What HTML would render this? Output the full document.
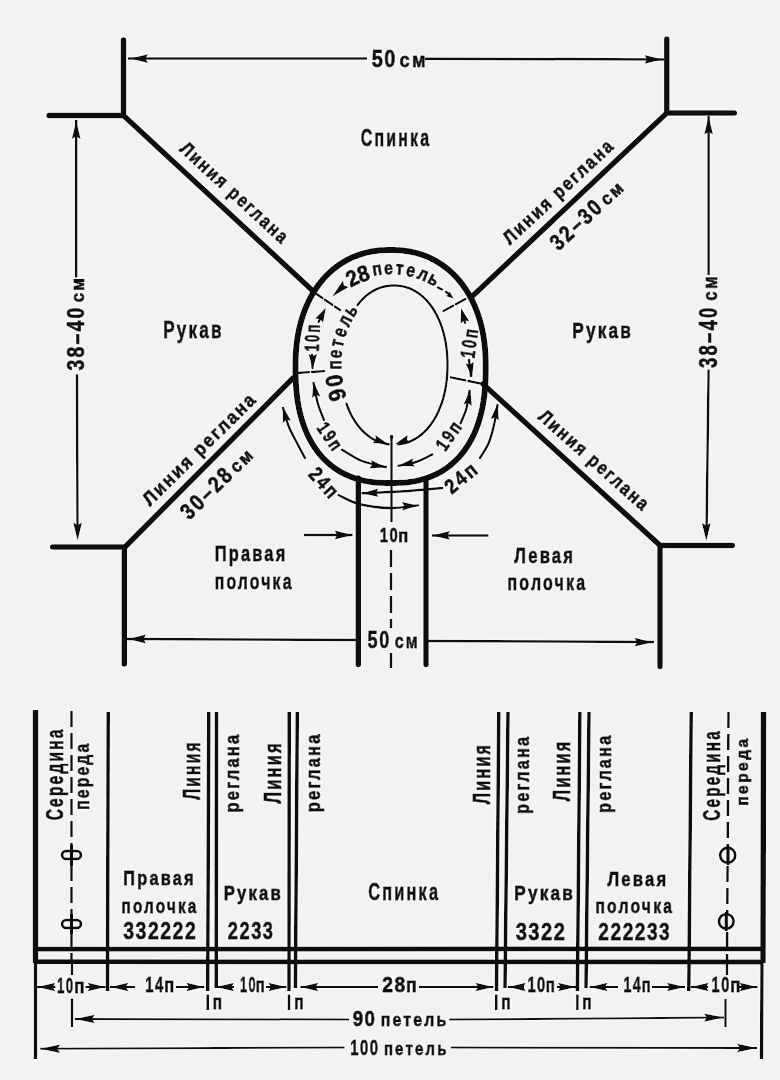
<!DOCTYPE html>
<html><head><meta charset="utf-8"><style>
html,body{margin:0;padding:0;background:#f2f2f2;}
svg{display:block;filter:grayscale(1);}
</style></head><body>
<svg width="780" height="1080" viewBox="0 0 780 1080">
<defs><filter id="h" filterUnits="userSpaceOnUse" x="0" y="0" width="780" height="1080">
<feMorphology in="SourceAlpha" operator="dilate" radius="1.2" result="d"/>
<feGaussianBlur in="d" stdDeviation="1" result="b"/>
<feFlood flood-color="#ffffff" flood-opacity="0.5"/>
<feComposite in2="b" operator="in" result="w"/>
<feMerge><feMergeNode in="w"/><feMergeNode in="SourceGraphic"/></feMerge>
</filter></defs>
<rect width="780" height="1080" fill="#f2f2f2"/>
<g stroke="#080808" fill="#080808" filter="url(#h)">
<g stroke-width="5.5" fill="none" stroke-linecap="round" stroke-linejoin="round">
<path d="M123.5,40 L123.5,115.5 M49,115.5 L123.5,115.5 L313,291"/>
<path d="M666.8,39 L666.8,113 M734.3,113 L666.8,113 L471.5,297"/>
<path d="M52.7,547 L125,547 L293.3,377.8 M124.3,547 L124.3,664"/>
<path d="M732.3,545.4 L660,545.4 L483,384 M660,545 L660,666.5"/>
<path d="M485.70,366.50 L485.67,372.10 L485.59,376.47 L485.46,380.47 L485.27,384.24 L485.02,387.85 L484.72,391.33 L484.37,394.70 L483.97,397.97 L483.51,401.16 L482.99,404.27 L482.43,407.31 L481.81,410.28 L481.13,413.19 L480.41,416.04 L479.63,418.82 L478.80,421.55 L477.91,424.22 L476.98,426.83 L475.99,429.38 L474.96,431.88 L473.87,434.33 L472.73,436.71 L471.54,439.04 L470.30,441.32 L469.02,443.54 L467.68,445.70 L466.29,447.80 L464.86,449.85 L463.38,451.84 L461.84,453.78 L460.27,455.65 L458.64,457.47 L456.97,459.23 L455.25,460.92 L453.49,462.56 L451.67,464.14 L449.82,465.66 L447.92,467.11 L445.97,468.51 L443.97,469.84 L441.93,471.11 L439.85,472.32 L437.72,473.46 L435.54,474.54 L433.31,475.56 L431.04,476.52 L428.71,477.40 L426.34,478.23 L423.91,478.99 L421.43,479.68 L418.89,480.31 L416.29,480.87 L413.62,481.37 L410.87,481.80 L408.03,482.17 L405.08,482.47 L402.00,482.70 L398.74,482.87 L395.17,482.97 L390.60,483.00 L386.03,482.97 L382.46,482.87 L379.20,482.70 L376.12,482.47 L373.17,482.17 L370.33,481.80 L367.58,481.37 L364.91,480.87 L362.31,480.31 L359.77,479.68 L357.29,478.99 L354.86,478.23 L352.49,477.40 L350.16,476.52 L347.89,475.56 L345.66,474.54 L343.48,473.46 L341.35,472.32 L339.27,471.11 L337.23,469.84 L335.23,468.51 L333.28,467.11 L331.38,465.66 L329.53,464.14 L327.71,462.56 L325.95,460.92 L324.23,459.23 L322.56,457.47 L320.93,455.65 L319.36,453.78 L317.82,451.84 L316.34,449.85 L314.91,447.80 L313.52,445.70 L312.18,443.54 L310.90,441.32 L309.66,439.04 L308.47,436.71 L307.33,434.33 L306.24,431.88 L305.21,429.38 L304.22,426.83 L303.29,424.22 L302.40,421.55 L301.57,418.82 L300.79,416.04 L300.07,413.19 L299.39,410.28 L298.77,407.31 L298.21,404.27 L297.69,401.16 L297.23,397.97 L296.83,394.70 L296.48,391.33 L296.18,387.85 L295.93,384.24 L295.74,380.47 L295.61,376.47 L295.53,372.10 L295.50,366.50 L295.53,362.25 L295.62,358.53 L295.77,354.98 L295.97,351.55 L296.24,348.20 L296.56,344.93 L296.95,341.72 L297.39,338.56 L297.89,335.46 L298.45,332.41 L299.07,329.40 L299.74,326.44 L300.47,323.53 L301.26,320.67 L302.10,317.85 L303.00,315.08 L303.96,312.35 L304.97,309.67 L306.04,307.04 L307.16,304.46 L308.33,301.93 L309.56,299.45 L310.84,297.01 L312.17,294.63 L313.55,292.31 L314.98,290.03 L316.46,287.81 L317.99,285.65 L319.57,283.54 L321.20,281.49 L322.88,279.49 L324.60,277.56 L326.37,275.68 L328.18,273.86 L330.03,272.11 L331.93,270.42 L333.88,268.79 L335.86,267.22 L337.89,265.72 L339.96,264.28 L342.06,262.91 L344.21,261.60 L346.40,260.36 L348.62,259.19 L350.89,258.09 L353.19,257.06 L355.53,256.09 L357.90,255.20 L360.32,254.37 L362.77,253.61 L365.26,252.93 L367.79,252.32 L370.37,251.77 L372.99,251.30 L375.66,250.91 L378.39,250.58 L381.20,250.33 L384.09,250.15 L387.13,250.04 L390.60,250.00 L394.07,250.04 L397.11,250.15 L400.00,250.33 L402.81,250.58 L405.54,250.91 L408.21,251.30 L410.83,251.77 L413.41,252.32 L415.94,252.93 L418.43,253.61 L420.88,254.37 L423.30,255.20 L425.67,256.09 L428.01,257.06 L430.31,258.09 L432.58,259.19 L434.80,260.36 L436.99,261.60 L439.14,262.91 L441.24,264.28 L443.31,265.72 L445.34,267.22 L447.32,268.79 L449.27,270.42 L451.17,272.11 L453.02,273.86 L454.83,275.68 L456.60,277.56 L458.32,279.49 L460.00,281.49 L461.63,283.54 L463.21,285.65 L464.74,287.81 L466.22,290.03 L467.65,292.31 L469.03,294.63 L470.36,297.01 L471.64,299.45 L472.87,301.93 L474.04,304.46 L475.16,307.04 L476.23,309.67 L477.24,312.35 L478.20,315.08 L479.10,317.85 L479.94,320.67 L480.73,323.53 L481.46,326.44 L482.13,329.40 L482.75,332.41 L483.31,335.46 L483.81,338.56 L484.25,341.72 L484.64,344.93 L484.96,348.20 L485.23,351.55 L485.43,354.98 L485.58,358.53 L485.67,362.25Z" stroke-width="6"/>
<path d="M358.3,478 L358.3,664.5 M426,479 L426,664.5"/>
</g>
<g fill="none" stroke-width="2.4" stroke-linecap="round">
<path d="M357.51,305.08 L360.03,301.94 L362.69,299.05 L365.48,296.42 L368.40,294.06 L371.43,291.97 L374.57,290.16 L377.81,288.65 L381.14,287.42 L384.57,286.50 L388.10,285.87 L391.77,285.55 L395.77,285.53 L399.47,285.82 L403.01,286.41 L406.45,287.30 L409.80,288.48 L413.05,289.97 L416.20,291.74 L419.25,293.79 L422.18,296.13 L424.98,298.73 L427.66,301.58 L430.20,304.69 L432.59,308.04 L434.82,311.62 L436.90,315.41 L438.80,319.41 L440.53,323.60 L442.08,327.97 L443.44,332.52 L444.61,337.21 L445.59,342.06 L446.37,347.05 L446.94,352.18 L447.32,357.46 L447.49,363.00 L447.45,368.92 L447.21,374.35 L446.77,379.58 L446.13,384.66 L445.28,389.60 L444.24,394.40 L443.00,399.04 L441.57,403.53 L439.96,407.84 L438.17,411.97 L436.21,415.90 L434.08,419.62 L431.79,423.12 L429.35,426.39 L426.77,429.42 L424.04,432.19 L421.20,434.70 L418.23,436.93 L415.14,438.89 L411.96,440.57 L408.68,441.95 L405.30,443.04 L401.82,443.83 L398.24,444.32"/>
<path d="M346.48,403.69 L346.89,404.83 L347.30,405.97 L347.73,407.08 L348.18,408.19 L348.63,409.28 L349.10,410.36 L349.58,411.43 L350.07,412.49 L350.57,413.53 L351.09,414.55 L351.61,415.57 L352.15,416.57 L352.70,417.55 L353.26,418.52 L353.83,419.47 L354.41,420.41 L355.00,421.34 L355.60,422.25 L356.22,423.14 L356.84,424.02 L357.48,424.88 L358.12,425.72 L358.78,426.55 L359.44,427.36 L360.11,428.16 L360.80,428.93 L361.49,429.69 L362.19,430.44 L362.90,431.16 L363.62,431.87 L364.35,432.56 L365.09,433.23 L365.84,433.89 L366.59,434.52 L367.35,435.14 L368.13,435.74 L368.90,436.32 L369.69,436.88 L370.49,437.42 L371.29,437.94 L372.10,438.44 L372.91,438.93 L373.74,439.39 L374.57,439.84 L375.40,440.26 L376.25,440.67 L377.10,441.05 L377.96,441.42 L378.82,441.76 L379.69,442.09 L380.57,442.39 L381.45,442.68 L382.34,442.94 L383.24,443.18 L384.14,443.41 L385.05,443.61 L385.97,443.79 L386.89,443.95 L387.82,444.09 L388.76,444.21"/>
<path d="M315,293 L340,310" stroke-dasharray="9 3"/>
<path d="M443.5,311 L468,297.5" stroke-dasharray="11 3"/>
<path d="M297,373 L325,371" stroke-dasharray="12 3"/>
<path d="M450.8,377.3 L482,383.8" stroke-dasharray="15 3"/>
<path d="M438,287.5 L442,289.5 M446,292 L449,294"/>
<path d="M318.7,321.8 L322,315 M312,355 L312.5,368"/>
<path d="M465,322.8 L463,315 M469,360 L471,376"/>
<path d="M313.50,383.00 C314.25,386.50 316.25,397.83 318.00,404.00 C319.75,410.17 323.00,417.33 324.00,420.00"/>
<path d="M342.00,449.70 C345.33,451.58 354.68,458.12 362.00,461.00 C369.32,463.88 381.92,466.00 385.90,467.00"/>
<path d="M469.50,391.00 C468.95,394.05 467.70,403.90 466.20,409.30 C464.70,414.70 461.45,421.05 460.50,423.40"/>
<path d="M432.30,454.40 C429.58,455.67 421.63,460.12 416.00,462.00 C410.37,463.88 401.42,465.08 398.50,465.70"/>
<path d="M283.00,408.00 C284.00,411.17 286.67,421.17 289.00,427.00 C291.33,432.83 294.33,437.83 297.00,443.00 C299.67,448.17 303.67,455.50 305.00,458.00"/>
<path d="M338.50,495.00 C341.92,496.50 350.47,501.83 359.00,504.00 C367.53,506.17 379.87,507.77 389.70,508.00 C399.53,508.23 413.28,505.83 418.00,505.40"/>
<path d="M497.50,405.00 C496.92,408.33 495.47,418.67 494.00,425.00 C492.53,431.33 491.03,437.50 488.70,443.00 C486.37,448.50 481.45,455.50 480.00,458.00"/>
<path d="M442.00,488.00 C439.17,488.25 432.00,488.92 425.00,489.50 C418.00,490.08 410.43,490.87 400.00,491.50 C389.57,492.13 368.67,493.00 362.40,493.30"/>
</g>
<path d="M332.0,296.7 L343.0,280.6 L344.0,285.6 L348.8,286.9Z" stroke="none"/>
<path d="M453.8,298.8 L445.7,296.0 L448.5,294.4 L449.6,291.4Z" stroke="none"/>
<path d="M325.9,307.4 L323.1,322.8 L320.0,318.9 L315.1,318.7Z" stroke="none"/>
<path d="M312.8,369.0 L308.6,354.0 L312.8,356.1 L317.0,354.0Z" stroke="none"/>
<path d="M461.1,307.9 L469.3,321.2 L464.4,320.4 L460.6,323.6Z" stroke="none"/>
<path d="M472.2,377.3 L465.5,363.3 L470.0,364.6 L473.7,361.8Z" stroke="none"/>
<path d="M313.5,381.5 L320.4,396.5 L315.9,395.1 L312.1,398.0Z" stroke="none"/>
<path d="M385.9,467.5 L369.4,468.3 L372.4,464.6 L371.1,460.1Z" stroke="none"/>
<path d="M470.4,389.5 L471.8,406.0 L468.0,403.1 L463.5,404.5Z" stroke="none"/>
<path d="M398.5,465.7 L413.3,458.3 L412.0,462.8 L415.0,466.5Z" stroke="none"/>
<path d="M282.8,406.4 L291.0,420.8 L286.4,419.7 L282.9,422.9Z" stroke="none"/>
<path d="M418.0,505.4 L402.2,510.4 L404.3,506.1 L401.8,502.0Z" stroke="none"/>
<path d="M497.5,404.0 L498.9,420.5 L495.1,417.6 L490.6,419.0Z" stroke="none"/>
<path d="M362.4,493.3 L378.2,488.5 L376.2,492.8 L378.5,496.9Z" stroke="none"/>
<path d="M388.0,444.1 L372.5,442.9 L375.9,439.7 L375.3,435.0Z" stroke="none"/>
<path d="M395.0,444.1 L407.7,435.0 L407.1,439.7 L410.5,442.9Z" stroke="none"/>
<g font-family="Liberation Sans" font-weight="bold" fill="#080808" stroke="#080808" stroke-width="0.9">
<text transform="translate(355.71,285.10) rotate(-25.73) scale(0.92,1)" x="-6.19" y="0" font-size="22.46">2</text>
<text transform="translate(365.79,281.04) rotate(-18.16) scale(0.92,1)" x="-6.26" y="0" font-size="22.46">8</text>
<text transform="translate(377.89,275.07) rotate(-9.35) scale(0.85,1)" x="-5.60" y="0" font-size="18.55">п</text>
<text transform="translate(388.60,274.04) rotate(-1.66) scale(0.85,1)" x="-5.20" y="0" font-size="18.55">е</text>
<text transform="translate(399.11,274.41) rotate(5.83) scale(0.85,1)" x="-4.55" y="0" font-size="18.55">т</text>
<text transform="translate(409.49,276.15) rotate(13.29) scale(0.85,1)" x="-5.20" y="0" font-size="18.55">е</text>
<text transform="translate(420.44,279.56) rotate(21.33) scale(0.85,1)" x="-5.34" y="0" font-size="18.55">л</text>
<text transform="translate(430.96,284.54) rotate(29.27) scale(0.85,1)" x="-5.96" y="0" font-size="18.55">ь</text>
<text transform="translate(345.13,392.62) rotate(-106.48) scale(0.9,1)" x="-6.62" y="0" font-size="23.91">9</text>
<text transform="translate(342.27,379.61) rotate(-98.41) scale(0.9,1)" x="-6.63" y="0" font-size="23.91">0</text>
<text transform="translate(341.20,365.04) rotate(-90.04) scale(0.75,1)" x="-6.08" y="0" font-size="20.14">п</text>
<text transform="translate(341.75,354.50) rotate(-84.01) scale(0.75,1)" x="-5.65" y="0" font-size="20.14">е</text>
<text transform="translate(343.37,344.31) rotate(-77.94) scale(0.75,1)" x="-4.94" y="0" font-size="20.14">т</text>
<text transform="translate(346.08,334.35) rotate(-71.48) scale(0.75,1)" x="-5.65" y="0" font-size="20.14">е</text>
<text transform="translate(350.34,323.96) rotate(-63.78) scale(0.75,1)" x="-5.80" y="0" font-size="20.14">л</text>
<text transform="translate(356.12,314.15) rotate(-54.93) scale(0.75,1)" x="-6.48" y="0" font-size="20.14">ь</text>
<text transform="translate(318.80,350.91) rotate(-88.00) translate(-0.83,0) scale(0.647,1)" font-size="20.43" letter-spacing="3.40">10п</text>
<text transform="translate(474.28,358.02) rotate(-82.00) translate(-0.91,0) scale(0.709,1)" font-size="20.43" letter-spacing="3.10">10п</text>
<text transform="translate(316.59,428.76) rotate(55.00) translate(-0.91,0) scale(0.763,1)" font-size="18.99" letter-spacing="2.88">19п</text>
<text transform="translate(445.73,451.37) rotate(-55.00) translate(-0.95,0) scale(0.797,1)" font-size="18.99" letter-spacing="2.76">19п</text>
<text transform="translate(307.77,475.37) rotate(48.00) translate(-0.58,0) scale(0.818,1)" font-size="20.43" letter-spacing="2.69">24п</text>
<text transform="translate(452.26,494.42) rotate(-40.00) translate(-0.62,0) scale(0.879,1)" font-size="20.43" letter-spacing="2.50">24п</text>
</g>
<g stroke-width="2.5" fill="none">
<path d="M128,58.6 L367,58.6 M425,58.8 L664,59.4"/>
<path d="M76.2,120 L76.2,277.5 M77,374.3 L77.5,535"/>
<path d="M708.6,116 L708.6,275 M708.6,369.6 L706.5,535"/>
<path d="M127,639 L358,640 M426,641 L654,642"/>
<path d="M304,535 L352.6,535 M432,535.4 L488.5,535.4"/>
<path d="M391.5,435 L391.5,522"/>
<path d="M391,550 L391,628 M391,653 L391,668" stroke-dasharray="17 6"/>
</g>
<path d="M130.0,58.6 L148.0,54.2 L145.5,58.6 L148.0,63.0Z" stroke="none"/>
<path d="M662.5,59.4 L644.5,63.8 L647.0,59.4 L644.5,55.0Z" stroke="none"/>
<path d="M76.2,121.0 L80.6,139.0 L76.2,136.5 L71.8,139.0Z" stroke="none"/>
<path d="M77.6,540.5 L73.2,522.5 L77.6,525.0 L82.0,522.5Z" stroke="none"/>
<path d="M708.6,116.5 L713.0,134.5 L708.6,132.0 L704.2,134.5Z" stroke="none"/>
<path d="M706.3,541.0 L701.9,523.0 L706.3,525.5 L710.7,523.0Z" stroke="none"/>
<path d="M128.0,639.0 L146.0,634.6 L143.5,639.0 L146.0,643.4Z" stroke="none"/>
<path d="M652.5,642.2 L634.5,646.6 L637.0,642.2 L634.5,637.8Z" stroke="none"/>
<path d="M352.6,535.0 L334.6,539.4 L337.1,535.0 L334.6,530.6Z" stroke="none"/>
<circle cx="391.6" cy="437" r="1.9" stroke="none"/>
<path d="M432.0,535.4 L450.0,531.0 L447.5,535.4 L450.0,539.8Z" stroke="none"/>
<g font-family="Liberation Sans" font-weight="bold" fill="#080808" stroke="#080808" stroke-width="0.9">
<text transform="translate(371.71,66.55) scale(0.838,1)" font-size="23.91" letter-spacing="1.79">50</text>
<text transform="translate(399.61,66.55) scale(0.884,1)" font-size="20.72" letter-spacing="2.49">см</text>
<text transform="translate(360.67,145.85) scale(0.671,1)" font-size="23.77" letter-spacing="3.28">Спинка</text>
<text transform="translate(163.28,337.55) scale(0.732,1)" font-size="23.33" letter-spacing="3.00">Рукав</text>
<text transform="translate(572.17,338.35) scale(0.759,1)" font-size="22.75" letter-spacing="2.90">Рукав</text>
<text transform="translate(214.73,561.35) scale(0.740,1)" font-size="22.17" letter-spacing="2.97">Правая</text>
<text transform="translate(214.72,588.85) scale(0.711,1)" font-size="22.17" letter-spacing="3.09">полочка</text>
<text transform="translate(514.26,562.75) scale(0.753,1)" font-size="22.17" letter-spacing="2.92">Левая</text>
<text transform="translate(507.51,589.55) scale(0.720,1)" font-size="22.17" letter-spacing="3.05">полочка</text>
<text transform="translate(379.79,541.55) scale(0.710,1)" font-size="20.87" letter-spacing="2.11">10</text>
<text transform="translate(398.17,541.55) scale(0.917,1)" font-size="17.97" letter-spacing="0.00">п</text>
<text transform="translate(367.57,647.75) scale(0.735,1)" font-size="24.64" letter-spacing="2.04">50</text>
<text transform="translate(394.69,647.75) scale(0.768,1)" font-size="21.01" letter-spacing="2.87">см</text>
<text transform="translate(83.65,370.07) rotate(-90.00) translate(-0.45,0) scale(0.802,1)" font-size="24.20" letter-spacing="2.74">38–40</text>
<text transform="translate(83.65,301.57) rotate(-90.00) translate(-0.66,0) scale(0.913,1)" font-size="18.41" letter-spacing="2.41">см</text>
<text transform="translate(716.85,367.68) rotate(-90.00) translate(-0.43,0) scale(0.739,1)" font-size="25.07" letter-spacing="2.98">38–40</text>
<text transform="translate(716.85,299.98) rotate(-90.00) translate(-0.66,0) scale(0.853,1)" font-size="19.71" letter-spacing="2.58">см</text>
<text transform="translate(178.71,150.36) rotate(42.50) translate(-0.06,0) scale(0.828,1)" font-size="18.99" letter-spacing="2.41">Линия реглана</text>
<text transform="translate(510.05,245.47) rotate(-43.00) translate(-0.06,0) scale(0.857,1)" font-size="18.99" letter-spacing="2.33">Линия реглана</text>
<text transform="translate(558.83,251.15) rotate(-43.00) translate(-0.44,0) scale(0.839,1)" font-size="22.61" letter-spacing="2.62">32–30</text>
<text transform="translate(607.47,205.80) rotate(-43.00) translate(-0.66,0) scale(0.950,1)" font-size="17.83" letter-spacing="2.37">см</text>
<text transform="translate(150.07,506.65) rotate(-44.60) translate(-0.07,0) scale(0.907,1)" font-size="18.99" letter-spacing="2.20">Линия реглана</text>
<text transform="translate(189.62,520.45) rotate(-44.60) translate(-0.44,0) scale(0.852,1)" font-size="22.61" letter-spacing="2.58">30–28</text>
<text transform="translate(237.33,473.41) rotate(-44.60) translate(-0.66,0) scale(0.950,1)" font-size="17.83" letter-spacing="2.37">см</text>
<text transform="translate(537.17,418.31) rotate(41.60) translate(-0.06,0) scale(0.836,1)" font-size="18.99" letter-spacing="2.39">Линия реглана</text>
</g>
<g fill="none" stroke-linecap="butt">
<path d="M35.5,710 L35.5,963" stroke-width="5.5"/><path d="M35.5,960 L35.5,1059" stroke-width="3.4"/>
<path d="M763.5,712 L763,963" stroke-width="5.5"/><path d="M762,960 L761.5,1059" stroke-width="3.4"/>
<path d="M108.2,712 L107.5,991" stroke-width="3.6"/>
<path d="M208.8,712 L207.7,991" stroke-width="3.6"/>
<path d="M216.5,712 L216.2,988" stroke-width="3.6"/>
<path d="M289.2,712 L289,991" stroke-width="3.6"/>
<path d="M297.3,712 L295.4,988" stroke-width="3.6"/>
<path d="M498.8,712 L496.5,991" stroke-width="3.6"/>
<path d="M508,712 L505,988" stroke-width="3.6"/>
<path d="M579.9,712 L577.4,991" stroke-width="3.6"/>
<path d="M589,712 L586,988" stroke-width="3.6"/>
<path d="M691.2,712 L688.8,991" stroke-width="3.6"/>
<path d="M35,949.2 L763,948.8 M35,961.7 L763,962" stroke-width="4.8"/>
<path d="M71.5,711 L71.5,962" stroke-width="2.6" stroke-dasharray="16 6"/>
<path d="M728.5,712 L727,962" stroke-width="2.6" stroke-dasharray="16 6"/>
<path d="M72,962 L72,975 M72,998.5 L72,1027 M727,962 L727,975 M725.5,999 L725.5,1027" stroke-width="2.4"/>
<path d="M37,987 L55.6,987 M85.4,987 L105.6,987 M110,987 L135,987 M176,987 L204.4,987 M216,987 L234,987 M266,987 L286.4,987 M300.3,987 L378,987 M419,987 L493.5,987 M507.8,987 L524,987 M557,987 L576,987 M589.6,987 L618,987 M652,987 L685,987 M690.7,987 L708,987 M739,987 L757.6,987" stroke-width="2"/>
<path d="M74.8,1019 L349,1019.5 M449.2,1019.6 L724,1017.6" stroke-width="2"/>
<path d="M40.2,1048.8 L344.6,1047.6 M450.7,1047.6 L757,1048" stroke-width="2"/>
</g>
<path d="M37.3,987.0 L55.3,982.7 L52.8,987.0 L55.3,991.3Z" stroke="none"/>
<path d="M105.6,987.0 L87.6,991.3 L90.1,987.0 L87.6,982.7Z" stroke="none"/>
<path d="M110.4,987.0 L128.4,982.7 L125.9,987.0 L128.4,991.3Z" stroke="none"/>
<path d="M204.4,987.0 L186.4,991.3 L188.9,987.0 L186.4,982.7Z" stroke="none"/>
<path d="M216.0,987.0 L234.0,982.7 L231.5,987.0 L234.0,991.3Z" stroke="none"/>
<path d="M286.4,987.0 L268.4,991.3 L270.9,987.0 L268.4,982.7Z" stroke="none"/>
<path d="M300.3,987.0 L318.3,982.7 L315.8,987.0 L318.3,991.3Z" stroke="none"/>
<path d="M493.5,987.0 L475.5,991.3 L478.0,987.0 L475.5,982.7Z" stroke="none"/>
<path d="M507.8,987.0 L525.8,982.7 L523.3,987.0 L525.8,991.3Z" stroke="none"/>
<path d="M576.0,987.0 L558.0,991.3 L560.5,987.0 L558.0,982.7Z" stroke="none"/>
<path d="M589.6,987.0 L607.6,982.7 L605.1,987.0 L607.6,991.3Z" stroke="none"/>
<path d="M685.0,987.0 L667.0,991.3 L669.5,987.0 L667.0,982.7Z" stroke="none"/>
<path d="M690.7,987.0 L708.7,982.7 L706.2,987.0 L708.7,991.3Z" stroke="none"/>
<path d="M757.6,987.0 L739.6,991.3 L742.1,987.0 L739.6,982.7Z" stroke="none"/>
<path d="M74.8,1019.0 L94.8,1014.8 L92.0,1019.0 L94.8,1023.2Z" stroke="none"/>
<path d="M724.0,1017.6 L704.0,1021.8 L706.8,1017.6 L704.0,1013.4Z" stroke="none"/>
<path d="M40.2,1048.8 L60.2,1044.6 L57.4,1048.8 L60.2,1053.0Z" stroke="none"/>
<path d="M757.0,1048.0 L737.0,1052.2 L739.8,1048.0 L737.0,1043.8Z" stroke="none"/>
<g fill="#f2f2f2" stroke-width="2.6">
<rect x="62" y="851" width="19" height="8" rx="4"/>
<rect x="62" y="920" width="19" height="8" rx="4"/>
<circle cx="727.7" cy="855.2" r="7.6"/>
<circle cx="726.3" cy="921.4" r="7.4"/>
</g>
<path d="M71.5,845 L71.5,866 M71.5,914 L71.5,934 M728,846 L728,865 M726.3,912 L726.3,931" stroke-width="3" fill="none"/>
<g font-family="Liberation Sans" font-weight="bold" fill="#080808" stroke="#080808" stroke-width="0.9">
<text transform="translate(62.55,819.67) rotate(-90.00) translate(-0.64,0) scale(0.666,1)" font-size="23.33" letter-spacing="3.30">Середина</text>
<text transform="translate(89.45,808.77) rotate(-90.00) translate(-1.09,0) scale(0.750,1)" font-size="20.87" letter-spacing="2.93">переда</text>
<text transform="translate(199.75,799.67) rotate(-90.00) translate(-0.06,0) scale(0.665,1)" font-size="23.33" letter-spacing="3.31">Линия</text>
<text transform="translate(238.85,811.38) rotate(-90.00) translate(-1.09,0) scale(0.837,1)" font-size="19.71" letter-spacing="2.63">реглана</text>
<text transform="translate(280.55,803.47) rotate(-90.00) translate(-0.06,0) scale(0.706,1)" font-size="23.33" letter-spacing="3.12">Линия</text>
<text transform="translate(319.55,811.17) rotate(-90.00) translate(-1.09,0) scale(0.837,1)" font-size="19.71" letter-spacing="2.63">реглана</text>
<text transform="translate(490.05,804.27) rotate(-90.00) translate(-0.06,0) scale(0.695,1)" font-size="23.33" letter-spacing="3.17">Линия</text>
<text transform="translate(528.55,812.97) rotate(-90.00) translate(-1.08,0) scale(0.831,1)" font-size="19.71" letter-spacing="2.65">реглана</text>
<text transform="translate(569.55,801.07) rotate(-90.00) translate(-0.06,0) scale(0.696,1)" font-size="23.33" letter-spacing="3.16">Линия</text>
<text transform="translate(611.05,811.88) rotate(-90.00) translate(-1.08,0) scale(0.831,1)" font-size="19.71" letter-spacing="2.65">реглана</text>
<text transform="translate(720.15,820.17) rotate(-90.00) translate(-0.63,0) scale(0.655,1)" font-size="23.33" letter-spacing="3.36">Середина</text>
<text transform="translate(747.75,804.67) rotate(-90.00) translate(-1.09,0) scale(0.950,1)" font-size="16.38" letter-spacing="2.55">переда</text>
<text transform="translate(123.34,885.15) scale(0.820,1)" font-size="19.86" letter-spacing="2.68">Правая</text>
<text transform="translate(121.46,913.15) scale(0.770,1)" font-size="19.86" letter-spacing="2.86">полочка</text>
<text transform="translate(123.28,939.45) scale(0.795,1)" font-size="24.49" letter-spacing="1.89">332222</text>
<text transform="translate(223.71,899.75) scale(0.841,1)" font-size="19.86" letter-spacing="2.62">Рукав</text>
<text transform="translate(227.79,939.45) scale(0.748,1)" font-size="24.49" letter-spacing="2.01">2233</text>
<text transform="translate(368.26,900.35) scale(0.687,1)" font-size="23.77" letter-spacing="3.20">Спинка</text>
<text transform="translate(514.27,899.75) scale(0.868,1)" font-size="19.86" letter-spacing="2.54">Рукав</text>
<text transform="translate(515.66,939.55) scale(0.824,1)" font-size="24.49" letter-spacing="1.82">3322</text>
<text transform="translate(607.46,885.85) scale(0.839,1)" font-size="19.86" letter-spacing="2.62">Левая</text>
<text transform="translate(595.43,913.15) scale(0.791,1)" font-size="19.86" letter-spacing="2.78">полочка</text>
<text transform="translate(598.36,939.55) scale(0.781,1)" font-size="24.49" letter-spacing="1.92">222233</text>
<text transform="translate(56.99,992.75) scale(0.593,1)" font-size="22.32" letter-spacing="2.53">10</text>
<text transform="translate(74.14,992.75) scale(0.827,1)" font-size="20.43" letter-spacing="0.00">п</text>
<text transform="translate(145.19,991.75) scale(0.667,1)" font-size="22.32" letter-spacing="2.25">14</text>
<text transform="translate(164.17,991.75) scale(0.806,1)" font-size="20.43" letter-spacing="0.00">п</text>
<text transform="translate(240.02,991.95) scale(0.567,1)" font-size="22.46" letter-spacing="2.64">10</text>
<text transform="translate(255.78,991.95) scale(0.732,1)" font-size="20.43" letter-spacing="0.00">п</text>
<text transform="translate(382.36,992.15) scale(0.903,1)" font-size="21.30" letter-spacing="1.66">28</text>
<text transform="translate(406.10,992.15) scale(0.859,1)" font-size="20.43" letter-spacing="0.00">п</text>
<text transform="translate(527.40,992.15) scale(0.691,1)" font-size="21.30" letter-spacing="2.17">10</text>
<text transform="translate(545.76,992.15) scale(0.743,1)" font-size="20.43" letter-spacing="0.00">п</text>
<text transform="translate(623.43,992.45) scale(0.637,1)" font-size="22.32" letter-spacing="2.35">14</text>
<text transform="translate(641.79,992.45) scale(0.722,1)" font-size="20.43" letter-spacing="0.00">п</text>
<text transform="translate(711.61,992.45) scale(0.651,1)" font-size="22.32" letter-spacing="2.30">10</text>
<text transform="translate(730.14,992.45) scale(0.827,1)" font-size="20.43" letter-spacing="0.00">п</text>
<path d="M207.7,994.5 L207.7,1010" stroke-width="2.6" fill="none"/>
<text transform="translate(212.75,1009.35) scale(0.754,1)" font-size="20.43" letter-spacing="0.00">п</text>
<path d="M289,994.5 L289,1010" stroke-width="2.6" fill="none"/>
<text transform="translate(294.25,1009.35) scale(0.754,1)" font-size="20.43" letter-spacing="0.00">п</text>
<path d="M496.3,994.5 L496.3,1010" stroke-width="2.6" fill="none"/>
<text transform="translate(501.25,1009.35) scale(0.754,1)" font-size="20.43" letter-spacing="0.00">п</text>
<path d="M577.4,994.5 L577.4,1010" stroke-width="2.6" fill="none"/>
<text transform="translate(582.25,1009.35) scale(0.754,1)" font-size="20.43" letter-spacing="0.00">п</text>
<text transform="translate(352.67,1026.05) scale(0.852,1)" font-size="22.03" letter-spacing="1.76">90</text>
<text transform="translate(380.72,1026.05) scale(0.835,1)" font-size="18.99" letter-spacing="2.63">петель</text>
<text transform="translate(350.19,1054.55) scale(0.666,1)" font-size="22.32" letter-spacing="2.25">100</text>
<text transform="translate(383.88,1054.55) scale(0.787,1)" font-size="18.99" letter-spacing="2.80">петель</text>
</g>
</g>
</svg>
</body></html>
